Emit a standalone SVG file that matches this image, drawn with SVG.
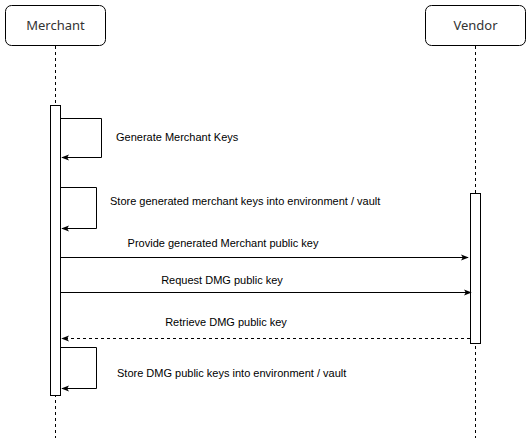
<svg xmlns="http://www.w3.org/2000/svg" width="532" height="443" viewBox="0 0 532 443">
<style>
.box{fill:#fff;stroke:#000;stroke-width:1}
.life{stroke:#000;stroke-width:1;stroke-dasharray:3,3;fill:none}
.hdr{font-family:"Noto Sans","DejaVu Sans",sans-serif;font-size:13px;fill:#333;text-anchor:middle}
.lbl{font-family:"Liberation Sans",Arial,sans-serif;font-size:11px;fill:#000}
.msg{stroke:#000;stroke-width:1;fill:none}
</style>
<defs>
<marker id="ah" viewBox="0 0 10 10" refX="9" refY="5" markerWidth="8" markerHeight="8" markerUnits="userSpaceOnUse" orient="auto">
<path d="M0,1 L10,5 L0,9 L2.5,5 Z" fill="#000"/>
</marker>
</defs>
<rect width="532" height="443" fill="#fff"/>
<g id="merchant">
<rect class="box" x="5.5" y="5.5" width="100" height="40" rx="6"/>
<text class="hdr" x="55.5" y="30">Merchant</text>
<line class="life" x1="55.5" y1="46" x2="55.5" y2="438"/>
<rect class="box" x="50.5" y="105.5" width="10" height="290"/>
</g>
<g id="vendor">
<rect class="box" x="425.5" y="5.5" width="100" height="40" rx="6"/>
<text class="hdr" x="475.5" y="30">Vendor</text>
<line class="life" x1="475.5" y1="46" x2="475.5" y2="438"/>
<rect class="box" x="470.5" y="193.5" width="10" height="150"/>
</g>
<g id="connectors">
<path class="msg" d="M61,118.5 H101.5 V157.5 H62" marker-end="url(#ah)"/>
<text class="lbl" x="116" y="141">Generate Merchant Keys</text>
<path class="msg" d="M61,187.5 H96.5 V228.5 H62" marker-end="url(#ah)"/>
<text class="lbl" x="110" y="205">Store generated merchant keys into environment / vault</text>
<path class="msg" d="M61,257.5 H468" marker-end="url(#ah)"/>
<text class="lbl" x="223" y="247" text-anchor="middle">Provide generated Merchant public key</text>
<path class="msg" d="M61,292.5 H471" marker-end="url(#ah)"/>
<text class="lbl" x="222" y="284" text-anchor="middle">Request DMG public key</text>
<path class="msg" d="M470,338.5 H62" stroke-dasharray="3,3" marker-end="url(#ah)"/>
<text class="lbl" x="226" y="326" text-anchor="middle">Retrieve DMG public key</text>
<path class="msg" d="M61,347.5 H96.5 V388.5 H62" marker-end="url(#ah)"/>
<text class="lbl" x="117" y="377">Store DMG public keys into environment / vault</text>
</g>
</svg>
